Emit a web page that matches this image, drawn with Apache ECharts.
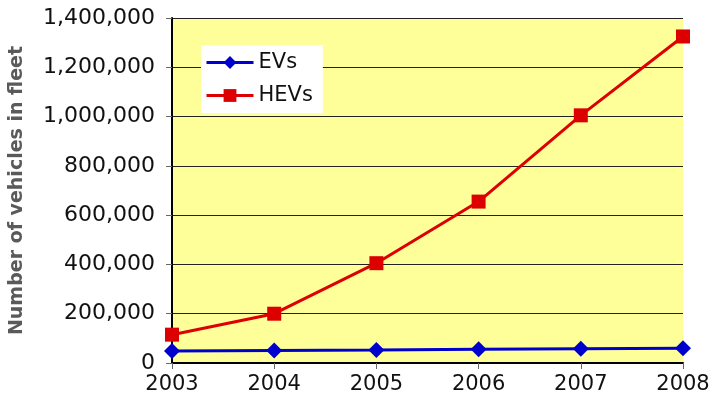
<!DOCTYPE html>
<html>
<head>
<meta charset="utf-8">
<script src="https://cdn.jsdelivr.net/npm/echarts@6/dist/echarts.min.js"></script>
<style>
  html, body { margin: 0; padding: 0; background: #fff; }
  #chart { width: 714px; height: 413px; }
</style>
</head>
<body>
<div id="chart"></div>
<script>
var years = ['2003', '2004', '2005', '2006', '2007', '2008'];
var evs = [49000, 51000, 53000, 56000, 58000, 60000];
var hevs = [115000, 200000, 405000, 655000, 1005000, 1325000];

function draw_chart(id){
    var myChart = echarts.init(document.getElementById(id));
    var font = 'DejaVu Sans';
    var option = {
        animation: false,
        grid: {
            left: 172, right: 31, top: 18, bottom: 50,
            show: true,
            backgroundColor: '#FFFF99',
            borderWidth: 0
        },
        legend: {
            left: 201, top: 45,
            orient: 'vertical',
            backgroundColor: '#fff',
            padding: [7, 10, 7, 4],
            itemWidth: 47, itemHeight: 16, itemGap: 12,
            lineStyle: { width: 3 },
            textStyle: { fontFamily: font, fontSize: 21, color: '#111' },
            data: ['EVs', 'HEVs']
        },
        xAxis: {
            type: 'category',
            boundaryGap: false,
            data: years,
            axisLine: { lineStyle: { color: '#000', width: 2 } },
            axisTick: { alignWithLabel: true, length: 6, lineStyle: { color: '#666' } },
            axisLabel: { fontFamily: font, fontSize: 21, color: '#111', margin: 11 },
            splitLine: { show: false }
        },
        yAxis: {
            type: 'value',
            min: 0, max: 1400000, interval: 200000,
            name: 'Number of vehicles in fleet',
            nameLocation: 'middle',
            nameGap: 145,
            nameTextStyle: { fontFamily: font, fontSize: 19, fontWeight: 'bold', color: '#5a5a5a' },
            axisLine: { show: true, lineStyle: { color: '#000', width: 2 } },
            axisTick: { show: true, length: 6, lineStyle: { color: '#666' } },
            axisLabel: {
                fontFamily: font, fontSize: 22, color: '#111', margin: 17,
                formatter: function (v) { return v.toLocaleString('en-US'); }
            },
            splitLine: { lineStyle: { color: '#222', width: 1 } }
        },
        series: [
            {
                name: 'EVs', type: 'line', data: evs,
                symbol: 'diamond', symbolSize: 16,
                lineStyle: { color: '#0000CC', width: 3 },
                itemStyle: { color: '#0000CC' }
            },
            {
                name: 'HEVs', type: 'line', data: hevs,
                symbol: 'rect', symbolSize: 14,
                lineStyle: { color: '#DD0000', width: 3 },
                itemStyle: { color: '#DD0000' }
            }
        ]
    };
    myChart.setOption(option);
}

draw_chart('chart');
</script>
</body>
</html>
